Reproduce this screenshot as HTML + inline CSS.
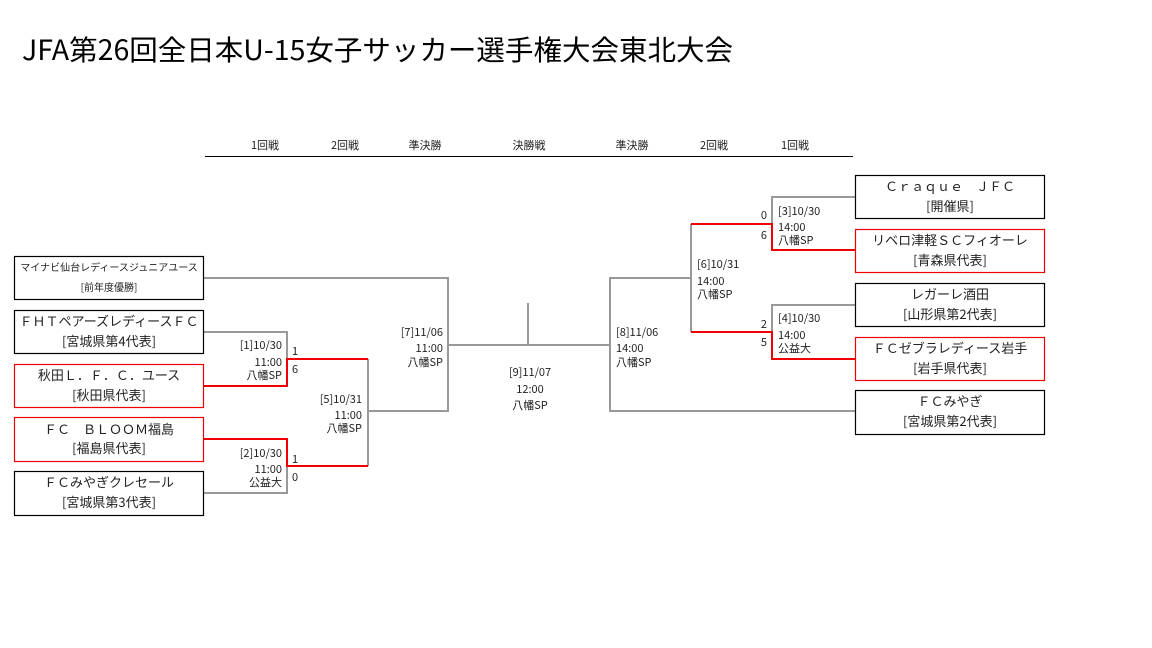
<!DOCTYPE html>
<html><head><meta charset="utf-8"><style>
html,body{margin:0;padding:0;background:#fff;}
svg{display:block;font-family:"Noto Sans CJK JP",sans-serif;}
</style></head><body>
<svg width="1152" height="648" viewBox="0 0 1152 648" xmlns="http://www.w3.org/2000/svg">
<rect width="1152" height="648" fill="#fff"/>
<text x="22" y="60" font-size="28" fill="#000" textLength="711" lengthAdjust="spacingAndGlyphs">JFA第26回全日本U-15女子サッカー選手権大会東北大会</text>
<g font-size="11" fill="#222" text-anchor="middle">
<text x="265" y="149">1回戦</text><text x="345" y="149">2回戦</text><text x="425" y="149">準決勝</text><text x="529" y="149">決勝戦</text><text x="632" y="149">準決勝</text><text x="714" y="149">2回戦</text><text x="795" y="149">1回戦</text>
</g>
<line x1="205" y1="156.5" x2="853" y2="156.5" stroke="#000" stroke-width="1"/>
<g fill="none" stroke="#999" stroke-width="2">
<polyline points="204,278 448,278 448,411 368,411"/>
<polyline points="204,332 287,332 287,359"/>
<polyline points="368,359 368,466"/>
<polyline points="204,493 287,493 287,466"/>
<polyline points="448,345 610,345"/>
<polyline points="528,303 528,345"/>
<polyline points="855,197 772,197 772,224"/>
<polyline points="691,224 691,332"/>
<polyline points="855,305 772,305 772,332"/>
<polyline points="691,278 610,278 610,411 855,411"/>
</g>
<g fill="none" stroke="#e00" stroke-width="2">
<polyline points="204,386 287,386 287,359 368,359"/>
<polyline points="204,439 287,439 287,466 368,466"/>
<polyline points="691,224 772,224 772,250 855,250"/>
<polyline points="691,332 772,332 772,359 855,359"/>
</g>
<g stroke-width="1.2" fill="#fff">
<rect x="14.5" y="256.5" width="189" height="43" stroke="#000"/>
<rect x="14.5" y="310.5" width="189" height="43" stroke="#000"/>
<rect x="14.5" y="364.5" width="189" height="43" stroke="#e00"/>
<rect x="14.5" y="417.5" width="189" height="44" stroke="#e00"/>
<rect x="14.5" y="471.5" width="189" height="44" stroke="#000"/>
<rect x="855.5" y="175.5" width="189" height="43" stroke="#000"/>
<rect x="855.5" y="229.5" width="189" height="43" stroke="#e00"/>
<rect x="855.5" y="283.5" width="189" height="43" stroke="#000"/>
<rect x="855.5" y="337.5" width="189" height="43" stroke="#e00"/>
<rect x="855.5" y="390.5" width="189" height="44" stroke="#000"/>
</g>
<g fill="#222" text-anchor="middle" font-size="13">
<text x="109" y="271" font-size="10">マイナビ仙台レディースジュニアユース</text>
<text x="109" y="291" font-size="10">[前年度優勝]</text>
<text x="109" y="326">ＦＨＴペアーズレディースＦＣ</text>
<text x="109" y="346">[宮城県第4代表]</text>
<text x="109" y="380">秋田Ｌ．Ｆ．Ｃ．ユース</text>
<text x="109" y="400">[秋田県代表]</text>
<text x="109" y="434">ＦＣ　ＢＬＯＯＭ福島</text>
<text x="109" y="453">[福島県代表]</text>
<text x="109" y="487">ＦＣみやぎクレセール</text>
<text x="109" y="507">[宮城県第3代表]</text>
<text x="950" y="191">Ｃｒａｑｕｅ　ＪＦＣ</text>
<text x="950" y="211">[開催県]</text>
<text x="950" y="245">リベロ津軽ＳＣフィオーレ</text>
<text x="950" y="265">[青森県代表]</text>
<text x="950" y="299">レガーレ酒田</text>
<text x="950" y="319">[山形県第2代表]</text>
<text x="950" y="353">ＦＣゼブラレディース岩手</text>
<text x="950" y="373">[岩手県代表]</text>
<text x="950" y="406">ＦＣみやぎ</text>
<text x="950" y="426">[宮城県第2代表]</text>
</g>
<g fill="#222" font-size="11">
<g text-anchor="end">
<text x="282" y="349">[1]10/30</text><text x="282" y="366">11:00</text><text x="282" y="379">八幡SP</text>
<text x="282" y="457">[2]10/30</text><text x="282" y="473">11:00</text><text x="282" y="486">公益大</text>
<text x="362" y="403">[5]10/31</text><text x="362" y="419">11:00</text><text x="362" y="432">八幡SP</text>
<text x="443" y="336">[7]11/06</text><text x="443" y="352">11:00</text><text x="443" y="366">八幡SP</text>
<text x="767" y="219">0</text><text x="767" y="239">6</text>
<text x="767" y="328">2</text><text x="767" y="346">5</text>
</g>
<text x="292" y="355">1</text><text x="292" y="373">6</text>
<text x="292" y="463">1</text><text x="292" y="481">0</text>
<text x="778" y="215">[3]10/30</text><text x="778" y="231">14:00</text><text x="778" y="244">八幡SP</text>
<text x="778" y="322">[4]10/30</text><text x="778" y="339">14:00</text><text x="778" y="352">公益大</text>
<text x="697" y="268">[6]10/31</text><text x="697" y="285">14:00</text><text x="697" y="298">八幡SP</text>
<text x="616" y="336">[8]11/06</text><text x="616" y="352">14:00</text><text x="616" y="366">八幡SP</text>
<g text-anchor="middle">
<text x="530" y="376">[9]11/07</text><text x="530" y="393">12:00</text><text x="530" y="409">八幡SP</text>
</g>
</g>
</svg>
</body></html>
